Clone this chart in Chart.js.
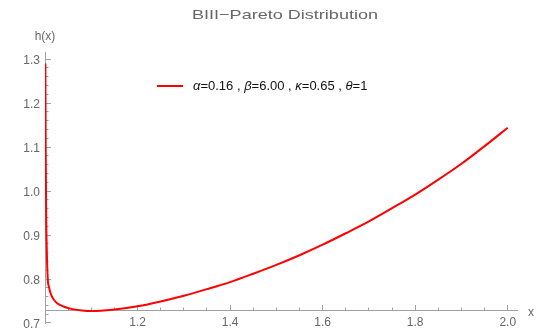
<!DOCTYPE html>
<html>
<head>
<meta charset="utf-8">
<script src="https://cdn.jsdelivr.net/npm/chart.js@4.4.1/dist/chart.umd.min.js"></script>
<style>
  body { margin: 0; background: #fff; }
</style>
</head>
<body>
<canvas id="myChart" width="538" height="332"></canvas>
<script>
'use strict';

// curve (x, h(x))
const xValues = [
  1.0008, 1.0015, 1.0025, 1.004, 1.006, 1.009, 1.012, 1.017, 1.023, 1.032,
  1.041, 1.062, 1.08, 1.1, 1.12, 1.15, 1.2, 1.25, 1.3, 1.35,
  1.4, 1.45, 1.5, 1.55, 1.6, 1.65, 1.7, 1.75, 1.8, 1.85,
  1.9, 1.95, 2.0,
];
const hValues = [
  1.29, 1.1, 0.95, 0.86, 0.8, 0.78, 0.7675, 0.756, 0.748, 0.741,
  0.737, 0.731, 0.7285, 0.7273, 0.7277, 0.7305, 0.738, 0.749, 0.762, 0.777,
  0.793, 0.812, 0.832, 0.854, 0.878, 0.904, 0.931, 0.961, 0.992, 1.026,
  1.062, 1.102, 1.144,
];

const titleText = 'BIII\u2212Pareto Distribution';
const legendParts = [
  ['\u03b1', true], ['=0.16 , ', false],
  ['\u03b2', true], ['=6.00 , ', false],
  ['\u03ba', true], ['=0.65 , ', false],
  ['\u03b8', true], ['=1', false],
];
const xTicks = [1.2, 1.4, 1.6, 1.8, 2.0];
const yTicks = [0.7, 0.8, 0.9, 1.0, 1.1, 1.2, 1.3];

const axisColor = '#a0a0a0';
const labelColor = '#666';
const fontFamily = '"Liberation Sans", Arial, sans-serif';
const xAxisAt = 0.7273;

const points = xValues.map((x, i) => ({ x: x, y: hValues[i] }));

const noPadding = (scale) => {
  scale.paddingTop = 0;
  scale.paddingBottom = 0;
  scale.paddingLeft = 0;
  scale.paddingRight = 0;
};

// title, axis names and legend drawn after the chart
const extras = {
  id: 'extras',
  afterDraw(chart) {
    const { ctx, chartArea, scales } = chart;
    ctx.save();
    ctx.fillStyle = labelColor;
    ctx.textBaseline = 'middle';

    // title (the picture's glyphs are wide, so stretch it a bit)
    ctx.font = '13px ' + fontFamily;
    const tw = ctx.measureText(titleText).width;
    const sx = 186 / tw;
    ctx.save();
    ctx.translate(285, 15);
    ctx.scale(sx, 1);
    ctx.textAlign = 'center';
    ctx.fillText(titleText, 0, 0);
    ctx.restore();

    ctx.font = '12px ' + fontFamily;
    ctx.textAlign = 'center';
    ctx.fillText('h(x)', chartArea.left, 37);
    ctx.textAlign = 'left';
    ctx.fillText('x', 528, scales.y.getPixelForValue(xAxisAt) + 2);

    // legend
    const ly = 86;
    ctx.strokeStyle = chart.data.datasets[0].borderColor;
    ctx.lineWidth = 2;
    ctx.beginPath();
    ctx.moveTo(157, ly);
    ctx.lineTo(183, ly);
    ctx.stroke();
    let lx = 193;
    ctx.fillStyle = '#111';
    legendParts.forEach(([txt, italic]) => {
      ctx.font = (italic ? 'italic ' : '') + '13px ' + fontFamily;
      ctx.fillText(txt, lx, ly);
      lx += ctx.measureText(txt).width;
    });
    ctx.restore();
  },
};

const ctx = document.getElementById('myChart');

new Chart(ctx, {
  type: 'line',
  data: {
    datasets: [
      {
        label: 'h(x)',
        data: points,
        borderColor: 'rgb(255,0,0)',
        borderWidth: 2,
        pointRadius: 0,
        fill: false,
        cubicInterpolationMode: 'monotone',
      },
    ],
  },
  options: {
    responsive: false,
    animation: false,
    layout: { padding: { left: 0, right: 21, top: 52, bottom: 9 } },
    plugins: {
      legend: { display: false },
      tooltip: { enabled: false },
      title: { display: false },
    },
    scales: {
      x: {
        type: 'linear',
        position: { y: xAxisAt },
        min: 1,
        max: 2.02,
        afterFit: noPadding,
        border: { color: axisColor },
        grid: { drawOnChartArea: false, tickLength: -6, color: axisColor },
        ticks: {
          stepSize: 0.2,
          includeBounds: false,
          autoSkip: false,
          maxRotation: 0,
          padding: 10,
          color: labelColor,
          font: { family: fontFamily, size: 12 },
          callback: (v) => {
            const hit = xTicks.find((t) => Math.abs(t - v) < 1e-6);
            return hit === undefined ? '' : hit.toFixed(1);
          },
        },
      },
      xMinor: {
        type: 'linear',
        position: { y: xAxisAt },
        min: 1,
        max: 2.02,
        afterFit: noPadding,
        border: { display: false },
        grid: { drawOnChartArea: false, tickLength: -3.5, color: axisColor },
        ticks: { stepSize: 0.05, includeBounds: false, display: false, autoSkip: false },
      },
      y: {
        type: 'linear',
        position: 'left',
        min: 0.7,
        max: 1.316,
        afterFit: (scale) => {
          noPadding(scale);
          scale.width = 45;
        },
        border: { color: axisColor },
        grid: { drawOnChartArea: false, tickLength: -6, color: axisColor },
        ticks: {
          stepSize: 0.1,
          includeBounds: false,
          autoSkip: false,
          padding: 11,
          labelOffset: 1.5,
          color: labelColor,
          font: { family: fontFamily, size: 12 },
          callback: (v) => {
            const hit = yTicks.find((t) => Math.abs(t - v) < 1e-6);
            return hit === undefined ? '' : hit.toFixed(1);
          },
        },
      },
      yMinor: {
        type: 'linear',
        position: { x: 1 },
        min: 0.7,
        max: 1.316,
        afterFit: noPadding,
        border: { display: false },
        grid: { drawOnChartArea: false, tickLength: -3.5, color: axisColor },
        ticks: { stepSize: 0.02, includeBounds: false, display: false, autoSkip: false },
      },
    },
  },
  plugins: [extras],
});
</script>
</body>
</html>
